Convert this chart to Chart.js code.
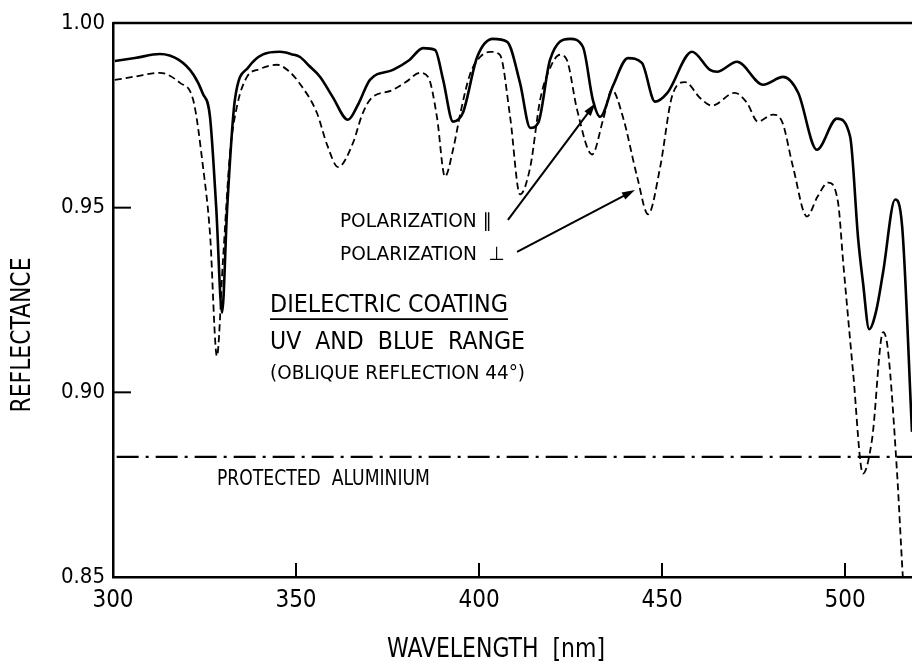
<!DOCTYPE html>
<html>
<head>
<meta charset="utf-8">
<script src="https://cdn.jsdelivr.net/npm/chart.js@4.4.1/dist/chart.umd.min.js"></script>
<style>
  html, body { margin: 0; padding: 0; background: #fff; }
  #chart { display: block; }
</style>
</head>
<body>
<canvas id="chart" width="912" height="665"></canvas>
<script>
'use strict';

// Polarization parallel (solid curve)
const parWavelength = [300.5, 306, 312.8, 318, 322, 324.5, 326.5, 328.2, 329.8, 331.2, 333.3, 337, 341, 345.6, 349, 351.1, 353.5, 356.6, 360, 364.2, 367, 370.2, 376.5, 381, 384.7, 388, 390.2, 392.9, 395.6, 399.5, 403.8, 407.7, 411.2, 414, 416.2, 419.4, 424.9, 428.4, 431.1, 433.1, 436.6, 440.7, 444.5, 448.1, 451.4, 458.2, 463.1, 465, 470.5, 477.6, 483.1, 487.2, 492.3, 497.8, 501.4, 503.6, 504.9, 506.6, 508.5, 510.4, 513.7, 515.6, 518.3];
const parReflectance = [0.9897, 0.9905, 0.9916, 0.9900, 0.9860, 0.9810, 0.9746, 0.9500, 0.9216, 0.9500, 0.9792, 0.9880, 0.9915, 0.9922, 0.9915, 0.9908, 0.9885, 0.9854, 0.9800, 0.9738, 0.9780, 0.9846, 0.9873, 0.9900, 0.9932, 0.9927, 0.9846, 0.9733, 0.9757, 0.9908, 0.9957, 0.9949, 0.9838, 0.9716, 0.9730, 0.9900, 0.9957, 0.9935, 0.9792, 0.9746, 0.9830, 0.9905, 0.9892, 0.9787, 0.9810, 0.9922, 0.9873, 0.9868, 0.9895, 0.9833, 0.9854, 0.9811, 0.9657, 0.9741, 0.9692, 0.9414, 0.9298, 0.9171, 0.9220, 0.9325, 0.9522, 0.9450, 0.8893];

// Polarization perpendicular (dashed curve)
const perpWavelength = [300.5, 306, 312.8, 318.3, 321.9, 324.6, 326.5, 328.4, 330, 332, 334, 336.6, 340, 344.8, 348, 351.1, 355.7, 358.5, 361.5, 365.6, 368, 370.2, 376.5, 380, 383.9, 386.1, 388.5, 390.7, 392.9, 395, 397.5, 400.3, 403, 405.7, 408.5, 411.2, 414, 416.7, 419.5, 422.1, 424, 426.8, 430.9, 433.9, 436.3, 439.3, 443.2, 446.2, 449.5, 452.7, 456.3, 460.4, 463.6, 469.9, 473.2, 476.2, 480.3, 482.8, 485.8, 489.6, 492.5, 495.4, 498.1, 499.5, 502.2, 504.9, 507.4, 510.4, 511.7, 514.2, 515.8, 516.5];
const perpReflectance = [0.9846, 0.9855, 0.9865, 0.9838, 0.9792, 0.9610, 0.9430, 0.9098, 0.9350, 0.9650, 0.9780, 0.9854, 0.9875, 0.9887, 0.9870, 0.9835, 0.9757, 0.9670, 0.9610, 0.9676, 0.9750, 0.9792, 0.9819, 0.9840, 0.9865, 0.9854, 0.9746, 0.9584, 0.9657, 0.9760, 0.9860, 0.9908, 0.9922, 0.9914, 0.9746, 0.9536, 0.9610, 0.9792, 0.9880, 0.9914, 0.9900, 0.9765, 0.9644, 0.9738, 0.9819, 0.9746, 0.9584, 0.9482, 0.9610, 0.9800, 0.9840, 0.9797, 0.9776, 0.9811, 0.9784, 0.9733, 0.9752, 0.9733, 0.9610, 0.9476, 0.9530, 0.9568, 0.9514, 0.9352, 0.9055, 0.8780, 0.8874, 0.9163, 0.9117, 0.8785, 0.8500, 0.8400];

// Protected aluminium reference level
const aluminiumWavelength = [301, 518.3];
const aluminiumReflectance = [0.8825, 0.8825];

const xTickValues = [300, 350, 400, 450, 500];
const yTickValues = [0.85, 0.90, 0.95, 1.00];

const FONT = "'DejaVu Sans Condensed', 'Liberation Sans Narrow', 'DejaVu Sans', sans-serif";

function points(xs, ys) { return xs.map((x, i) => ({ x: x, y: ys[i] })); }

// draw text squeezed/stretched to a given width
function fitText(ctx, text, x, y, width, size, align) {
  ctx.save();
  ctx.font = size + 'px ' + FONT;
  ctx.textBaseline = 'middle';
  ctx.textAlign = 'left';
  const w = ctx.measureText(text).width;
  const sx = width / w;
  const left = align === 'center' ? x - width / 2 : x;
  ctx.translate(left, y);
  ctx.scale(sx, 1);
  ctx.fillText(text, 0, 0);
  ctx.restore();
}

function arrow(ctx, x1, y1, x2, y2) {
  const a = Math.atan2(y2 - y1, x2 - x1);
  const len = 13, half = 4;
  ctx.beginPath();
  ctx.moveTo(x1, y1);
  ctx.lineTo(x2 - Math.cos(a) * len * 0.6, y2 - Math.sin(a) * len * 0.6);
  ctx.stroke();
  ctx.beginPath();
  ctx.moveTo(x2, y2);
  ctx.lineTo(x2 - Math.cos(a) * len + Math.sin(a) * half, y2 - Math.sin(a) * len - Math.cos(a) * half);
  ctx.lineTo(x2 - Math.cos(a) * len - Math.sin(a) * half, y2 - Math.sin(a) * len + Math.cos(a) * half);
  ctx.closePath();
  ctx.fill();
}

const annotations = {
  id: 'annotations',
  afterDraw(chart) {
    const ctx = chart.ctx;
    const area = chart.chartArea;
    const xs = chart.scales.x, ys = chart.scales.y;
    const px = v => xs.getPixelForValue(v);
    const py = v => ys.getPixelForValue(v);
    ctx.save();
    ctx.strokeStyle = '#000';
    ctx.fillStyle = '#000';
    ctx.lineWidth = 2.5;
    ctx.lineCap = 'butt';

    // top frame line
    ctx.beginPath();
    ctx.moveTo(area.left, area.top);
    ctx.lineTo(area.right, area.top);
    ctx.stroke();

    // inward ticks
    ctx.lineWidth = 2;
    xTickValues.slice(1).forEach(v => {
      ctx.beginPath();
      ctx.moveTo(px(v), area.bottom);
      ctx.lineTo(px(v), area.bottom - 14);
      ctx.stroke();
    });
    yTickValues.slice(1, 3).forEach(v => {
      ctx.beginPath();
      ctx.moveTo(area.left, py(v));
      ctx.lineTo(area.left + 18, py(v));
      ctx.stroke();
    });

    // labels inside the plot
    fitText(ctx, 'POLARIZATION \u2225', px(362), py(0.9461), 152, 19);
    fitText(ctx, 'POLARIZATION  \u22A5', px(362), py(0.9372), 165, 19);
    fitText(ctx, 'DIELECTRIC COATING', px(342.9), py(0.9234), 238, 24);
    ctx.lineWidth = 1.8;
    ctx.beginPath();
    ctx.moveTo(px(342.9), py(0.9198));
    ctx.lineTo(px(342.9) + 238, py(0.9198));
    ctx.stroke();
    fitText(ctx, 'UV  AND  BLUE  RANGE', px(342.9), py(0.9136), 255, 25);
    fitText(ctx, '(OBLIQUE REFLECTION 44\u00B0)', px(342.9), py(0.9050), 255, 20);
    fitText(ctx, 'PROTECTED  ALUMINIUM', px(328.4), py(0.8763), 213, 21);

    // arrows to the curves
    ctx.lineWidth = 2;
    arrow(ctx, px(407.9), py(0.9467), px(431.8), py(0.9783));
    arrow(ctx, px(410.4), py(0.9380), px(442.6), py(0.9548));

    // axis titles
    fitText(ctx, 'WAVELENGTH  [nm]', 496, 650, 218, 26, 'center');
    ctx.save();
    ctx.translate(23, 335);
    ctx.rotate(-Math.PI / 2);
    fitText(ctx, 'REFLECTANCE', 0, 0, 155, 26, 'center');
    ctx.restore();

    ctx.restore();
  }
};

new Chart(document.getElementById('chart'), {
  type: 'line',
  data: {
    datasets: [
      {
        label: 'Polarization parallel',
        data: points(parWavelength, parReflectance),
        borderColor: '#000', borderWidth: 2.6,
        pointRadius: 0, cubicInterpolationMode: 'monotone', fill: false
      },
      {
        label: 'Polarization perpendicular',
        data: points(perpWavelength, perpReflectance),
        borderColor: '#000', borderWidth: 1.8, borderDash: [7, 4],
        pointRadius: 0, cubicInterpolationMode: 'monotone', fill: false
      },
      {
        label: 'Protected aluminium',
        data: points(aluminiumWavelength, aluminiumReflectance),
        borderColor: '#000', borderWidth: 2.2, borderDash: [22, 7, 3, 7],
        pointRadius: 0, fill: false
      }
    ]
  },
  options: {
    responsive: false,
    devicePixelRatio: 1,
    animation: false,
    layout: { padding: { top: 23, right: 0, left: 0, bottom: 0 } },
    plugins: { legend: { display: false }, tooltip: { enabled: false } },
    scales: {
      x: {
        type: 'linear', min: 300, max: 518.3,
        afterBuildTicks: s => { s.ticks = xTickValues.map(v => ({ value: v })); },
        afterFit: s => { s.height = 88; },
        grid: { display: false, drawTicks: false },
        border: { display: true, color: '#000', width: 2.5 },
        ticks: { color: '#000', padding: 9, maxRotation: 0, font: { family: FONT, size: 24 } }
      },
      y: {
        type: 'linear', min: 0.85, max: 1.0,
        afterBuildTicks: s => { s.ticks = yTickValues.map(v => ({ value: v })); },
        afterFit: s => { s.width = 113; },
        grid: { display: false, drawTicks: false },
        border: { display: true, color: '#000', width: 2.5 },
        ticks: { color: '#000', padding: 8, font: { family: FONT, size: 22 }, callback: v => v.toFixed(2) }
      }
    }
  },
  plugins: [annotations]
});
</script>
</body>
</html>
